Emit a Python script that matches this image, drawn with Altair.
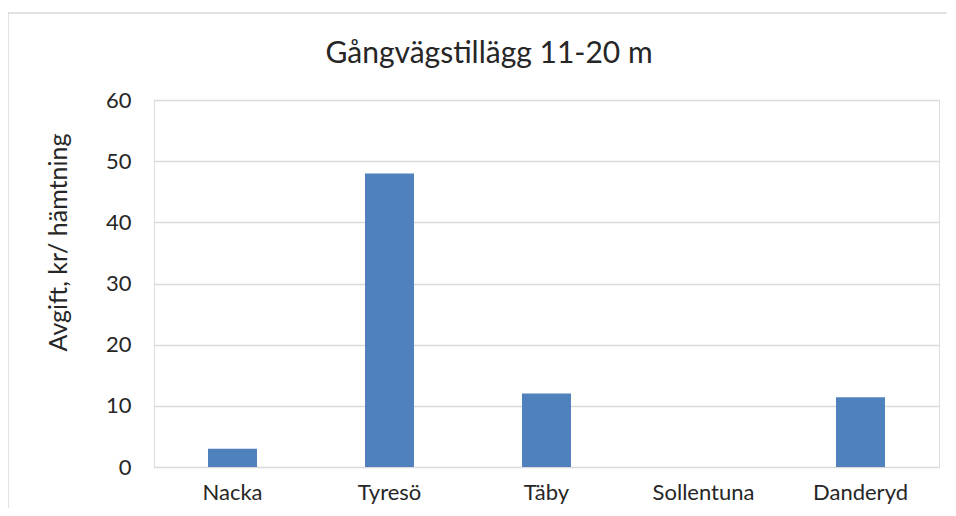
import altair as alt
import pandas as pd

categories = ["Nacka", "Tyresö", "Täby", "Sollentuna", "Danderyd"]
values = [3, 48, 12, 0, 11.4]
y_ticks = [0, 10, 20, 30, 40, 50, 60]

title_text = "Gångvägstillägg 11-20 m"
y_title = "Avgift, kr/ hämtning"

FONT = "Lato"
TEXT = "#262626"
GRID = "#d9d9d9"
BAR = "#4f81bd"

df = pd.DataFrame({"kommun": categories, "avgift": values})

W, H = 785, 367

bars = alt.Chart(df).mark_bar(color=BAR).encode(
    x=alt.X(
        "kommun:N",
        sort=categories,
        scale=alt.Scale(paddingInner=0.688, paddingOuter=0.344),
        axis=alt.Axis(
            title=None, labelAngle=0, domain=False, ticks=False,
            labelFont=FONT, labelFontSize=22, labelColor=TEXT, labelPadding=15,
        ),
    ),
    y=alt.Y(
        "avgift:Q",
        scale=alt.Scale(domain=[0, 60], nice=False),
        axis=alt.Axis(
            values=y_ticks, domain=False, ticks=False, grid=True,
            gridColor=GRID, gridWidth=1.3,
            labelFont=FONT, labelFontSize=22, labelColor=TEXT, labelPadding=23,
            title=y_title, titleFont=FONT, titleFontSize=25, titleFontWeight="normal",
            titleColor=TEXT, titleAngle=-90, titleX=-96, titleY=142,
            titleAlign="center", titleBaseline="middle",
        ),
    ),
)

one = alt.Data(values=[{"k": 1}])

title_mark = alt.Chart(one).mark_text(
    text=title_text, font=FONT, fontSize=30, color=TEXT,
    align="center", baseline="alphabetic",
).encode(x=alt.value(335), y=alt.value(-37))

border_v = alt.Chart(one).mark_rule(color=GRID, strokeWidth=1.5).encode(
    x=alt.value(-146), y=alt.value(-87), y2=alt.value(H + 60)
)
border_h = alt.Chart(one).mark_rule(color=GRID, strokeWidth=1.5).encode(
    x=alt.value(-146), x2=alt.value(W + 30), y=alt.value(-87)
)

chart = alt.layer(border_v, border_h, bars, title_mark).properties(
    width=W, height=H,
    autosize=alt.AutoSizeParams(type="none"),
    padding={"left": 146, "top": 92, "right": 8, "bottom": 41},
).configure_view(stroke=None).configure(background="white")

chart.save("out.html", embed_options={"renderer": "svg", "actions": False})
